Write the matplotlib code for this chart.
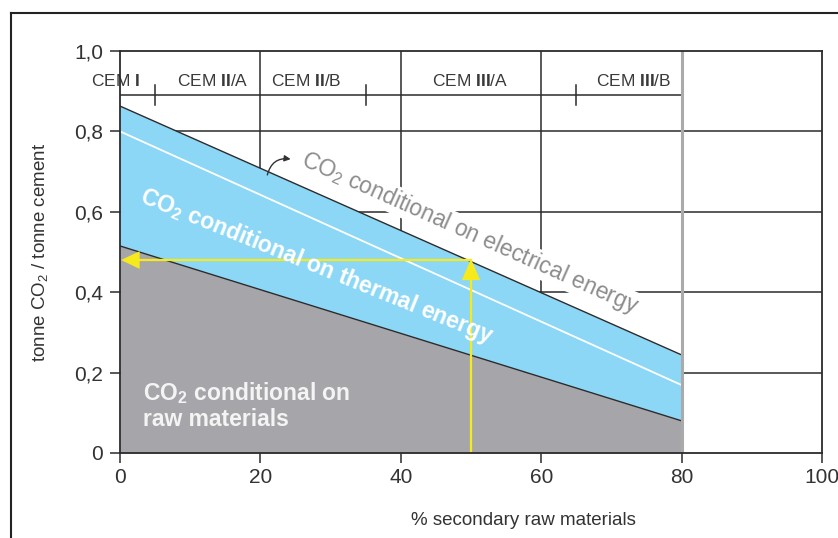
import matplotlib
matplotlib.use('Agg')
import matplotlib.pyplot as plt
from matplotlib.lines import Line2D
import numpy as np

plt.rcParams['font.family'] = ['Liberation Sans', 'DejaVu Sans']
plt.rcParams['mathtext.fontset'] = 'custom'
plt.rcParams['mathtext.rm'] = 'Liberation Sans'
plt.rcParams['mathtext.it'] = 'Liberation Sans:italic'
plt.rcParams['mathtext.bf'] = 'Liberation Sans:bold'

# data
share = [0, 80]                 # % secondary raw materials
co2_total = [0.863, 0.244]      # top of blue band (incl. electrical)
co2_thermal = [0.800, 0.169]    # white line
co2_raw = [0.515, 0.080]        # top of grey area

cem_labels = [r'CEM $\mathbf{I}$', r'CEM $\mathbf{II}$/A', r'CEM $\mathbf{II}$/B',
              r'CEM $\mathbf{III}$/A', r'CEM $\mathbf{III}$/B']
cem_label_x = [-0.7, 13.2, 26.5, 49.9, 73.2]
cem_bounds = [5, 35, 65]

example_x = 50
example_y = 0.48

xticks = [0, 20, 40, 60, 80, 100]
yticks = [0, 0.2, 0.4, 0.6, 0.8, 1.0]
ytick_labels = ['0', '0,2', '0,4', '0,6', '0,8', '1,0']

# colours
c_blue = '#8dd7f6'
c_grey = '#a6a6aa'
c_line = '#2b2b2b'
c_yellow = '#f7ea1c'

fig = plt.figure(figsize=(8.38, 5.38), dpi=100)
ax = fig.add_axes([120/838, (538-453)/538, (822-120)/838, (453-51)/538])
ax.set_xlim(0, 100)
ax.set_ylim(0, 1.0)

# grid
for gx in [20, 40, 60]:
    ax.plot([gx, gx], [0, 1.0], color=c_line, lw=1.1, zorder=1)
for gy in [0.2, 0.4, 0.6, 0.8]:
    ax.plot([0, 100], [gy, gy], color=c_line, lw=1.1, zorder=1)
ax.plot([80, 80], [0, 1.0], color='#aaaaaa', lw=2.2, zorder=4)

# CEM band
ax.plot([0, 80], [0.89, 0.89], color=c_line, lw=1.1, zorder=1)
for b in cem_bounds:
    ax.plot([b, b], [0.865, 0.915], color=c_line, lw=1.1, zorder=1)
for lab, lx in zip(cem_labels, cem_label_x):
    ax.text(lx, 0.925, lab, ha='center', va='center', fontsize=12.5, color='#3a3a3a')

# fills
ax.fill_between(share, co2_raw, co2_total, color=c_blue, lw=0, zorder=2)
ax.fill_between(share, 0, co2_raw, color=c_grey, lw=0, zorder=2)
ax.plot(share, co2_total, color=c_line, lw=1.0, zorder=3)
ax.plot(share, co2_raw, color=c_line, lw=1.0, zorder=3)
ax.plot(share, co2_thermal, color='white', lw=1.3, zorder=3)

# yellow reading example
ax.plot([example_x, example_x], [0, example_y - 0.03], color=c_yellow, lw=1.6, zorder=5)
ax.plot([example_x, 2.0], [example_y, example_y], color=c_yellow, lw=1.6, zorder=5)
ax.fill([example_x - 1.3, example_x, example_x + 1.3],
        [example_y - 0.05, example_y + 0.003, example_y - 0.05], color=c_yellow, lw=0, zorder=5)
ax.fill([0.15, 2.8, 2.8], [example_y, example_y + 0.022, example_y - 0.022],
        color=c_yellow, lw=0, zorder=5)

# texts
ax.text(28.0, 0.465, r'CO$_\mathbf{2}$ conditional on thermal energy', rotation=-22,
        rotation_mode='anchor', ha='center', va='center', fontsize=16.5,
        fontweight='bold', color='white', zorder=6)
ax.text(49.8, 0.547, r'CO$_2$ conditional on electrical energy', rotation=-24,
        rotation_mode='anchor', ha='center', va='center', fontsize=16.5,
        color='#8c8c8c', zorder=6,
        bbox=dict(facecolor='white', edgecolor='none', pad=0.5))
ax.text(3.3, 0.118, 'CO$_\\mathbf{2}$ conditional on\nraw materials', ha='left', va='center',
        fontsize=16.5, fontweight='bold', color='#f4f4f4', linespacing=1.1, zorder=6)
ax.annotate('', xy=(24.7, 0.73), xytext=(20.9, 0.685),
            arrowprops=dict(arrowstyle='-|>', color='#333333', lw=1.0,
                            connectionstyle='arc3,rad=-0.5', mutation_scale=9),
            zorder=6)

# axes styling
for sp in ax.spines.values():
    sp.set_color(c_line)
    sp.set_linewidth(1.3)
    sp.set_zorder(7)
ax.set_xticks(xticks)
ax.set_xticklabels([str(t) for t in xticks])
ax.set_yticks(yticks)
ax.set_yticklabels(ytick_labels)
ax.tick_params(axis='both', colors=c_line, labelcolor='#333333',
               length=7, width=1.1)
ax.tick_params(axis='x', labelsize=15, pad=4)
ax.tick_params(axis='y', labelsize=15, pad=5)
ax.set_xlabel('% secondary raw materials', fontsize=13.5, color='#333333')
ax.xaxis.set_label_coords(0.574, -0.148)
ax.set_ylabel('tonne CO$_2$ / tonne cement', fontsize=13.5, color='#333333')
ax.yaxis.set_label_coords(-0.1, 0.5)

# outer frame
fig.add_artist(Line2D([10.5/838, 10.5/838], [0, 1 - 12.5/538], color='#222222', lw=1.5,
                      transform=fig.transFigure))
fig.add_artist(Line2D([10.5/838, 1.0], [1 - 12.5/538, 1 - 12.5/538], color='#222222', lw=1.5,
                      transform=fig.transFigure))

fig.savefig('out.png', dpi=100)
